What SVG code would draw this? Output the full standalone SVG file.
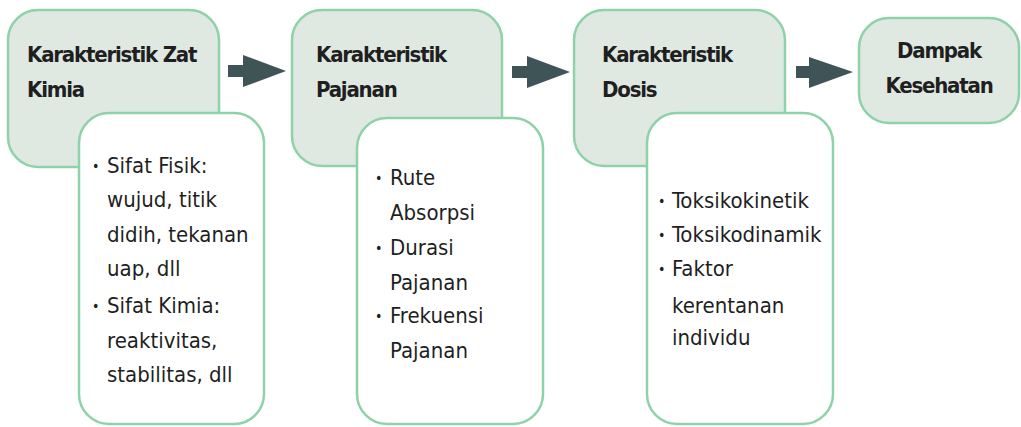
<svg xmlns="http://www.w3.org/2000/svg" width="1021" height="427" viewBox="0 0 1021 427">
  <style>
    .head { fill: #dfe9e1; stroke: #8fd1a9; stroke-width: 2.5; }
    .card { fill: #ffffff; stroke: #8fd1a9; stroke-width: 2.5; }
    .title { font-family: "DejaVu Sans Condensed", "DejaVu Sans", sans-serif; font-weight: bold; font-size: 22px; letter-spacing: -1.2px; fill: #1f1f1f; }
    .item { font-family: "DejaVu Sans Condensed", "DejaVu Sans", sans-serif; font-size: 22px; fill: #1f1f1f; }
    .dot { font-size: 14px; }
    .arrow { fill: #3f5457; }
  </style>
  <rect width="1021" height="427" fill="#ffffff"/>

  <!-- flow arrows between the stages -->
  <g id="connectors">
    <polygon class="arrow" points="228,65 243,65 243,55 286,71 243,87 243,77 228,77"/>
    <polygon class="arrow" points="512,66 527,66 527,56 570,72 527,88 527,78 512,78"/>
    <polygon class="arrow" points="796,66 809,66 809,57 853,72 809,88 809,78 796,78"/>
  </g>

  <!-- stage 1: chemical characteristics -->
  <g id="zat-kimia">
    <rect class="head" x="8" y="10" width="211" height="157" rx="30"/>
    <text class="title" x="27" y="62">Karakteristik Zat</text>
    <text class="title" x="27" y="97">Kimia</text>
    <rect class="card" x="79" y="113" width="185" height="311" rx="30"/>
    <g class="item">
      <text class="dot" x="92" y="171">•</text>
      <text x="107" y="173">Sifat Fisik:</text>
      <text x="107" y="207">wujud, titik</text>
      <text x="107" y="242">didih, tekanan</text>
      <text x="107" y="276">uap, dll</text>
      <text class="dot" x="92" y="311">•</text>
      <text x="107" y="313">Sifat Kimia:</text>
      <text x="107" y="348">reaktivitas,</text>
      <text x="107" y="382">stabilitas, dll</text>
    </g>
  </g>

  <!-- stage 2: exposure characteristics -->
  <g id="pajanan">
    <rect class="head" x="292" y="10" width="210" height="156" rx="30"/>
    <text class="title" x="316" y="62">Karakteristik</text>
    <text class="title" x="316" y="97">Pajanan</text>
    <rect class="card" x="357" y="118" width="186" height="306" rx="30"/>
    <g class="item">
      <text class="dot" x="375" y="183">•</text>
      <text x="390" y="185">Rute</text>
      <text x="390" y="220">Absorpsi</text>
      <text class="dot" x="375" y="253">•</text>
      <text x="390" y="255">Durasi</text>
      <text x="390" y="290">Pajanan</text>
      <text class="dot" x="375" y="321">•</text>
      <text x="390" y="323">Frekuensi</text>
      <text x="390" y="358">Pajanan</text>
    </g>
  </g>

  <!-- stage 3: dose characteristics -->
  <g id="dosis">
    <rect class="head" x="574" y="10" width="211" height="156" rx="30"/>
    <text class="title" x="602" y="62">Karakteristik</text>
    <text class="title" x="602" y="97">Dosis</text>
    <rect class="card" x="647" y="113" width="186" height="311" rx="30"/>
    <g class="item">
      <text class="dot" x="658" y="206">•</text>
      <text x="672" y="208">Toksikokinetik</text>
      <text class="dot" x="658" y="240">•</text>
      <text x="672" y="242">Toksikodinamik</text>
      <text class="dot" x="658" y="274">•</text>
      <text x="672" y="276">Faktor</text>
      <text x="672" y="313">kerentanan</text>
      <text x="672" y="345">individu</text>
    </g>
  </g>

  <!-- outcome -->
  <g id="dampak">
    <rect class="head" x="859" y="18" width="160" height="105" rx="30"/>
    <text class="title" x="939" y="58" text-anchor="middle">Dampak</text>
    <text class="title" x="939" y="93" text-anchor="middle">Kesehatan</text>
  </g>
</svg>
